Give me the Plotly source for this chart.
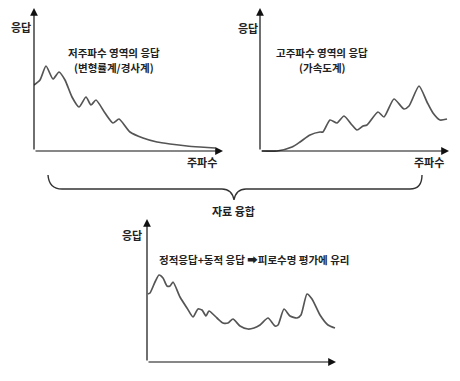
import plotly.graph_objects as go

W, H = 460, 381

# ---- data (frequency, response), in axis units ----
low_freq = [0, 6, 12, 19, 25, 31, 38, 45, 52, 57, 62, 71, 79, 85, 96, 109, 123, 136, 153, 166, 181]
low_resp = [66, 71, 85, 72, 79, 71, 54, 44, 54, 46, 51, 38, 28, 32, 19, 13, 9, 7, 5, 4, 3]

high_freq = [2, 17, 32, 40, 50, 60, 63, 70, 77, 84, 92, 97, 103, 107, 118, 124, 134, 144, 149, 159, 167, 173, 180, 187]
high_resp = [0, 0, 4, 9, 16, 19, 19, 31, 28, 35, 26, 21, 25, 26, 39, 34, 52, 42, 45, 65, 49, 38, 31, 32]

fused_freq = [1, 3, 8, 12, 16, 20, 23, 26, 33, 40, 46, 51, 55, 59, 62, 70, 76, 81, 86, 93, 101, 107,
              113, 121, 128, 131, 137, 143, 150, 154, 160, 165, 173, 181, 188]
fused_resp = [68, 69, 80, 87, 84, 76, 76, 80, 65, 54, 45, 53, 52, 46, 51, 44, 39, 39, 43, 36, 33, 34,
              37, 44, 36, 37, 53, 46, 44, 47, 68, 63, 47, 37, 34]

titles_low = ["저주파수 영역의 응답", "(변형률계/경사계)"]
titles_high = ["고주파수 영역의 응답", "(가속도계)"]
title_fused = "정적응답+동적 응답 ➡피로수명 평가에 유리"
y_label = "응답"
x_label = "주파수"
merge_label = "자료 융합"


def pxx(x):
    return x / W


def pxy(y):
    return 1 - y / H


FONT = "Noto Sans CJK KR, Noto Sans, DejaVu Sans"
LINE = "#555555"
AX = "#111111"

fig = go.Figure()
for fx, fy, xa, ya in [(low_freq, low_resp, "x", "y"), (high_freq, high_resp, "x2", "y2"),
                       (fused_freq, fused_resp, "x3", "y3")]:
    fig.add_trace(go.Scatter(x=fx, y=fy, mode="lines", xaxis=xa, yaxis=ya,
                             line=dict(color=LINE, width=1.7, shape="spline", smoothing=0.6),
                             hoverinfo="skip", showlegend=False))

hidden = dict(visible=False, fixedrange=True)
# panel domains: 1 axis unit == 1 pixel
fig.update_layout(
    width=W, height=H, margin=dict(l=0, r=0, t=0, b=0),
    paper_bgcolor="white", plot_bgcolor="white",
    xaxis=dict(domain=[pxx(34), pxx(226)], range=[0, 192], anchor="y", **hidden),
    yaxis=dict(domain=[pxy(153), pxy(6)], range=[-2, 145], anchor="x", **hidden),
    xaxis2=dict(domain=[pxx(260), pxx(452)], range=[0, 192], anchor="y2", **hidden),
    yaxis2=dict(domain=[pxy(153), pxy(6)], range=[-2, 145], anchor="x2", **hidden),
    xaxis3=dict(domain=[pxx(147), pxx(339)], range=[0, 192], anchor="y3", **hidden),
    yaxis3=dict(domain=[pxy(364), pxy(215)], range=[-2, 147], anchor="x3", **hidden),
)

ann = []


def arrow(xr, yr, x, y, ax, ay):
    ann.append(dict(xref=xr, yref=yr, axref=xr, ayref=yr, x=x, y=y, ax=ax, ay=ay, text="",
                    showarrow=True, arrowhead=2, arrowsize=1.3, arrowwidth=1.2,
                    arrowcolor=AX, standoff=0, startstandoff=0))


arrow("x", "y", 0, 143, 0, 0)
arrow("x", "y", 189, 0, 0, 0)
arrow("x2", "y2", 0, 143, 0, 0)
arrow("x2", "y2", 189, 0, 0, 0)
arrow("x3", "y3", 0, 143, 0, 0)
arrow("x3", "y3", 189, 0, 0, 0)


def text(t, x, y, size=11):
    ann.append(dict(xref="paper", yref="paper", x=pxx(x), y=pxy(y), text=f"<b>{t}</b>",
                    showarrow=False, xanchor="center", yanchor="middle",
                    font=dict(family=FONT, size=size, color="#222222")))


text(y_label, 21, 27)
text(y_label, 248, 28)
text(y_label, 132, 235)
text(x_label, 202, 162)
text(x_label, 429, 162)
text(titles_low[0], 114, 52, 10.5)
text(titles_low[1], 114, 67, 10.5)
text(titles_high[0], 322, 52, 10.5)
text(titles_high[1], 322, 67, 10.5)
text(title_fused, 254, 259, 10.5)
text(merge_label, 234, 211)

fig.update_layout(annotations=ann)

# curly brace joining the two upper panels
pts = [("M", 48, 175), ("Q", 49, 189, 62, 189), ("L", 222, 189), ("Q", 232, 189, 234, 200),
       ("Q", 236, 189, 246, 189), ("L", 410, 189), ("Q", 422, 189, 422, 175)]
path = ""
for p in pts:
    cmd = p[0]
    coords = p[1:]
    s = []
    for i in range(0, len(coords), 2):
        s.append(f"{pxx(coords[i]):.5f},{pxy(coords[i+1]):.5f}")
    path += cmd + " " + " ".join(s) + " "
fig.add_shape(type="path", xref="paper", yref="paper", path=path.strip(),
              line=dict(color="#333333", width=1.4))

fig.write_html("out.html", config={"displayModeBar": False},
               post_script="document.body.style.margin='0';")
